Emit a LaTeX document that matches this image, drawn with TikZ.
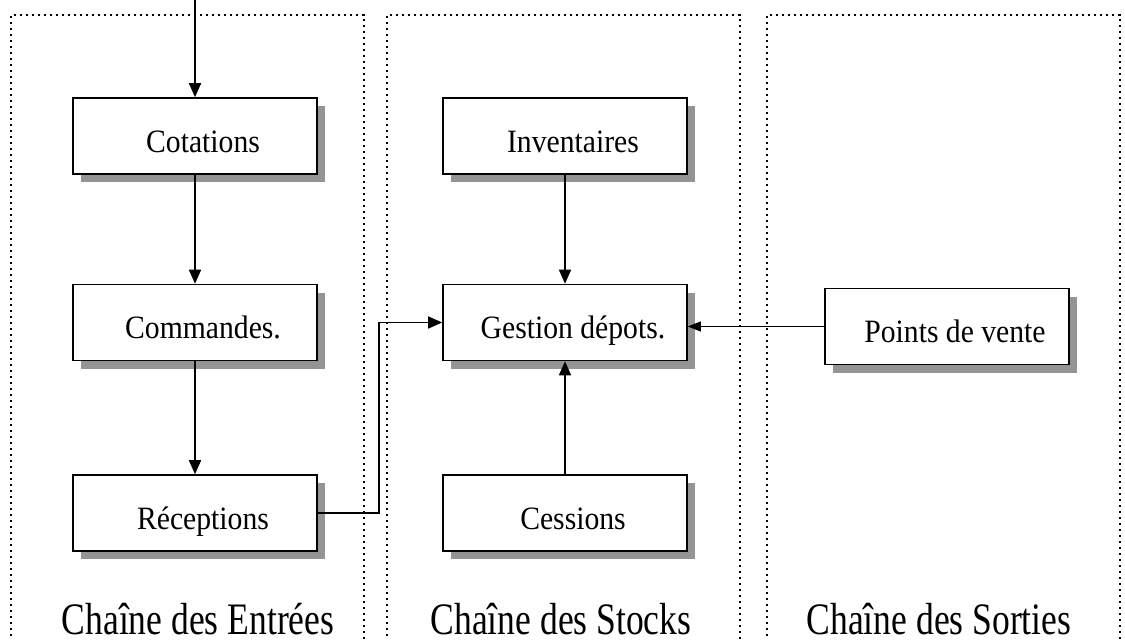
\documentclass[tikz,border=0pt]{standalone}
\usepackage{fontspec}
\setmainfont{Liberation Serif}
\newfontfamily\boxfont[FakeStretch=0.91]{Liberation Serif}
\newfontfamily\titlefont[FakeStretch=0.79]{Liberation Serif}
\usetikzlibrary{arrows.meta,shadows}

\tikzset{
  etape/.style={draw,line width=1.6pt,fill=white,minimum width=244pt,minimum height=76pt,
    inner sep=0pt,text height=32pt,text depth=0pt,
    font=\boxfont\fontsize{32.6}{36}\selectfont,
    execute at begin node={\hspace*{16pt}},
    drop shadow={shadow xshift=8pt,shadow yshift=-8pt,fill=black!42,opacity=1}},
  fleche/.style={line width=1.6pt,-{Triangle[length=14pt,width=12pt]}},
  panel/.style={line width=1.6pt,dash pattern=on 2.4pt off 3.6pt},
  titre/.style={anchor=base,inner sep=0pt,text depth=0pt,font=\titlefont\fontsize{45}{50}\selectfont}
}

\begin{document}
\begin{tikzpicture}[x=1pt,y=-1pt]
      \useasboundingbox (0,0) rectangle (1125,640);
      \foreach \l in {11,387,767}
        \draw [panel] (\l,660) -- (\l,15) -- ++(353,0) -- ++(0,645);

      \node [etape] (cot) at (195,136) {Cotations};
      \node [etape] (com) at (195,322.5) {Commandes.};
      \node [etape] (rec) at (195,513) {Réceptions};
      \node [etape] (inv) at (565,136) {Inventaires};
      \node [etape] (ges) at (565,322.5) {Gestion dépots.};
      \node [etape] (ces) at (565,513) {Cessions};
      \node [etape] (pdv) at (947,326.5) {Points de vente};

      \coordinate (entree) at (cot.north |- 0,0);
      \draw [fleche] (entree) -- (cot);
      \draw [fleche] (cot) -- (com);
      \draw [fleche] (com) -- (rec);
      \draw [fleche] (inv) -- (ges);
      \draw [fleche] (ces) -- (ges);
      \draw [fleche] (rec.east) -- ++(61,0) |- (ges.west);
      \draw [line width=0.8pt,-{Triangle[length=13pt,width=10pt]}] (pdv.west) -- (pdv.west -| ges.east);

      \node [titre] (tent) at (198,634) {Chaîne des Entrées};
      \node [titre] (tsto) at (561,634) {Chaîne des Stocks};
      \node [titre] (tsor) at (939,634) {Chaîne des Sorties};
\end{tikzpicture}
\end{document}
